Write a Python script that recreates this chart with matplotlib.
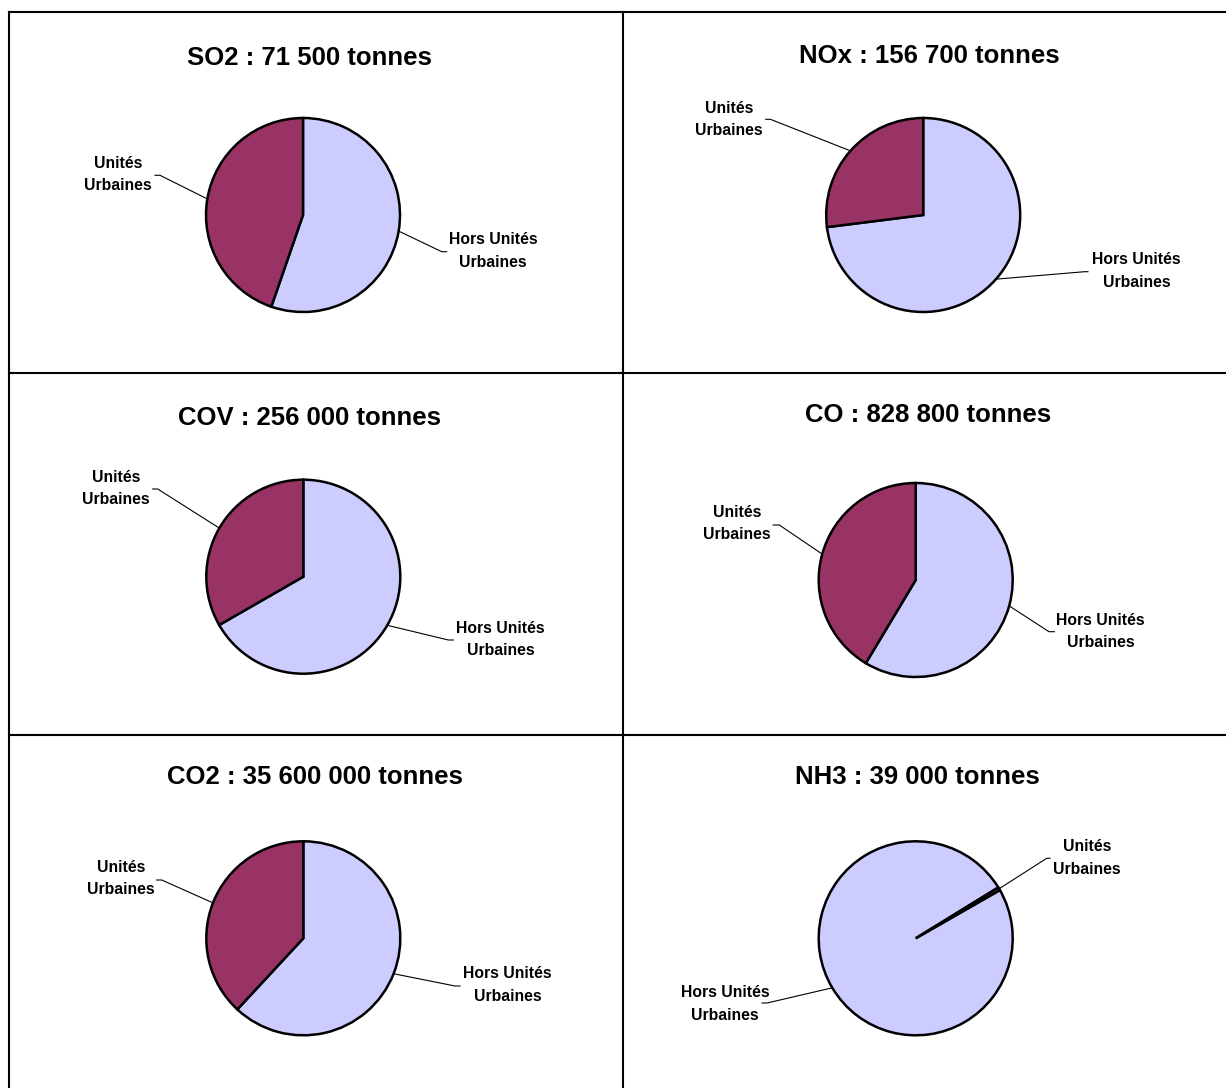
import numpy as np
import matplotlib.pyplot as plt
from matplotlib.lines import Line2D

plt.rcParams['font.family'] = ['Liberation Sans', 'DejaVu Sans']

# Data: share of emissions (%) per pollutant
pollutants = ["SO2", "NOx", "COV", "CO", "CO2", "NH3"]
totals = ["71 500", "156 700", "256 000", "828 800", "35 600 000", "39 000"]
hors_uu = [55.3, 73.0, 66.7, 58.6, 61.9, 99.5]   # Hors Unités Urbaines
uu = [44.7, 27.0, 33.3, 41.4, 38.1, 0.5]          # Unités Urbaines
categories = ["Hors Unités\nUrbaines", "Unités\nUrbaines"]
colors = ["#CCCCFF", "#993366"]

# Layout (pixels)
W, H = 1226, 1088
R = 97
col_edges = [9, 623, 1226]
row_edges = [12, 373, 735, 1088]
centers = [(303, 215), (923.2, 215), (303.3, 576.7),
           (915.7, 580), (303.3, 938.3), (915.7, 938.3)]
start_angles = [90, 90, 90, 90, 90, 29.8]
title_dx = [6, 6.6, 6.2, 12.3, 12, 2]
title_base = [65, 63.3, 425, 422.3, 784.3, 784]
# label text positions relative to pie centre, [Hors, UU]
text_pos = [[(190, -36), (-184.7, 40.7)],
            [(213.2, -56), (-194.5, 95.5)],
            [(197.5, -62.5), (-187.3, 88.2)],
            [(185, -51.5), (-178.4, 56.7)],
            [(204.2, -46.7), (-182.5, 60)],
            [(-190.7, -65.7), (171.3, 80.3)]]
leader_end = [[(138.7, -36.7), (-143, 39.7)],
              [(161.4, -56.7), (-152.8, 95.7)],
              [(145, -63.3), (-145.6, 87.7)],
              [(133.3, -51.7), (-136.4, 55)],
              [(151.7, -47.7), (-141.6, 58.3)],
              [(-148.7, -64.7), (131, 80)]]
tick_end = [[143.7, -148], [164.8, -157.5], [150, -150.6],
            [138.6, -142.5], [156.7, -146.6], [-153.7, 134.3]]

fig = plt.figure(figsize=(W / 100, H / 100), dpi=100)

for i, name in enumerate(pollutants):
    col, row = i % 2, i // 2
    left, right = col_edges[col], col_edges[col + 1]
    top, bottom = row_edges[row], row_edges[row + 1]
    ax = fig.add_axes([left / W, 1 - bottom / H, (right - left) / W, (bottom - top) / H])
    cx, cy = centers[i]
    wedges, _ = ax.pie([hors_uu[i], uu[i]], colors=colors, startangle=start_angles[i],
                       counterclock=False, radius=R,
                       wedgeprops=dict(edgecolor='black', linewidth=1.8))
    ax.set_xlim(left - cx, right - cx)
    ax.set_ylim(cy - bottom, cy - top)
    ax.set_aspect('auto')
    ax.axis('off')

    ax.text(title_dx[i], cy - title_base[i], f"{name} : {totals[i]} tonnes",
            ha='center', va='baseline', fontsize=18.5, fontweight='bold')

    for k, w in enumerate(wedges):
        ang = np.deg2rad((w.theta1 + w.theta2) / 2)
        x0, y0 = R * np.cos(ang), R * np.sin(ang)
        ex, ey = leader_end[i][k]
        ax.plot([x0, ex, tick_end[i][k]], [y0, ey, ey], color='black', lw=0.8)
        tx, ty = text_pos[i][k]
        ax.text(tx, ty, categories[k], ha='center', va='center', fontsize=11.3,
                fontweight='bold', linespacing=1.6)

# table borders
lw = 1.5
fig.add_artist(Line2D([9 / W, 9 / W], [0, 1 - 12 / H], color='black', lw=lw))
fig.add_artist(Line2D([623 / W, 623 / W], [0, 1 - 12 / H], color='black', lw=lw))
for y in row_edges[:-1]:
    fig.add_artist(Line2D([9 / W, 1], [1 - y / H, 1 - y / H], color='black', lw=lw))

fig.savefig("out.png", dpi=100, facecolor='white')
